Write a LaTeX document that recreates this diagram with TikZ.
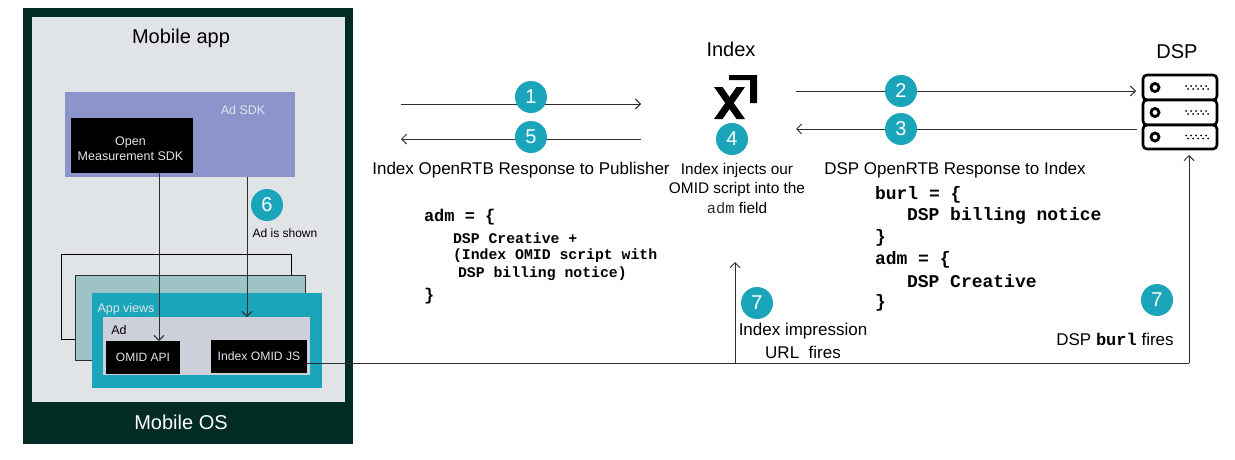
\documentclass[tikz,border=0pt]{standalone}
\usepackage{fontspec}
\setmainfont{Liberation Sans}
\setmonofont{Liberation Mono}
\usetikzlibrary{arrows.meta}
\definecolor{osgreen}{HTML}{022B23}
\definecolor{appgrey}{HTML}{E1E4E7}
\definecolor{sdkblue}{HTML}{8B95CB}
\definecolor{viewmid}{HTML}{9DC3C6}
\definecolor{teal}{HTML}{1BA5BA}
\definecolor{adgrey}{HTML}{CDD0DA}
\definecolor{linegrey}{HTML}{2A2E2E}
\newcommand{\fsz}[1]{\fontsize{#1}{#1}\selectfont}
\tikzset{
  box/.style={rectangle,inner sep=0pt,outer sep=0pt,draw=none},
  blackbox/.style={box,fill=black,text=appgrey,align=center},
  label/.style={inner sep=0pt,outer sep=0pt,text=black,align=center},
  badge/.style={circle,fill=teal,text=white,inner sep=0pt,minimum size=32pt,font=\fsz{20}},
  flow/.style={draw=linegrey,line width=0.9pt,-{Straight Barb[length=5pt,width=10pt,line width=0.9pt]}},
  plainline/.style={draw=linegrey,line width=0.9pt},
  code/.style={inner sep=0pt,outer sep=0pt,anchor=west,font=\ttfamily\bfseries,text=black},
  srv/.style={draw=black,line width=2.6pt,fill=white,rounded corners=4pt}
}
\begin{document}
\begin{tikzpicture}[x=1pt,y=-1pt]
\useasboundingbox (0,0) rectangle (1235,459);
% containers
\node[box,fill=osgreen,minimum width=330pt,minimum height=436pt] (os) at (188,226) {};
\node[box,fill=appgrey,minimum width=313pt,minimum height=385pt] (app) at (188.5,209.5) {};
\node[label,font=\fsz{20}] (apptitle) at (181,38) {Mobile app};
\node[label,font=\fsz{20},text=white] (ostitle) at (181,422) {Mobile OS};
\node[box,fill=sdkblue,minimum width=230pt,minimum height=85pt] (adsdk) at (180,134.5) {};
\node[label,font=\fsz{12.5},text=appgrey] (adsdkt) at (243,110) {Ad SDK};
\node[blackbox,minimum width=122pt,minimum height=55pt,font=\fsz{12.5},text depth=0pt] (omsdk) at (132,145.5) {\rule{0pt}{15pt}Open\hspace*{3pt}\\[3pt]Measurement SDK\hspace*{3pt}};
% view stack
\node[box,draw=black,line width=0.9pt,minimum width=230pt,minimum height=85pt] (view3) at (176,296.5) {};
\node[box,draw=linegrey,line width=0.9pt,fill=viewmid,minimum width=230pt,minimum height=85pt] (view2) at (190,317.5) {};
\node[box,fill=teal,minimum width=230pt,minimum height=95pt] (view1) at (207,340.5) {};
\node[label,font=\fsz{12.5},text=appgrey] (viewt) at (126,309.5) {App views};
\node[box,fill=adgrey,minimum width=207pt,minimum height=58pt] (ad) at (206.5,346) {};
\node[label,font=\fsz{12.5}] (adt) at (119,330.5) {Ad};
\node[blackbox,minimum width=74pt,minimum height=33pt,font=\fsz{12}] (omidapi) at (143,357.5) {OMID API};
\node[blackbox,minimum width=96pt,minimum height=33pt,font=\fsz{12.2}] (omidjs) at (259,356.5) {Index OMID JS};
% free ends of the connectors
\coordinate (a1s) at (401,104); \coordinate (a1e) at (641,104);
\coordinate (a5s) at (641,139); \coordinate (a5e) at (401,139);
\coordinate (a2s) at (796,91);  \coordinate (a2e) at (1136,91);
\coordinate (a3s) at (1137,129); \coordinate (a3e) at (796,129);
\coordinate (j7) at (735,363);
\coordinate (i7e) at (735,262);
\coordinate (c7) at (1189,363);
\coordinate (d7e) at (1189,155);
% connectors
\draw[flow] (a1s) -- (a1e);
\draw[flow] (a5s) -- (a5e);
\draw[flow] (a2s) -- (a2e);
\draw[flow] (a3s) -- (a3e);
\draw[flow] (omsdk.south -| 159,0) -- (omidapi.north -| 159,0);
\draw[flow] (adsdk.south -| 247,0) -- (ad.north -| 247,0);
\draw[plainline] (omidjs.east |- j7) -- (j7);
\draw[flow] (j7) -- (i7e);
\draw[plainline] (j7) -- (c7);
\draw[flow] (c7) -- (d7e);
% badges
\node[badge] (b1) at (531,97) {1};
\node[badge] (b5) at (531,137) {5};
\node[badge] (b2) at (901,91) {2};
\node[badge] (b3) at (901,129) {3};
\node[badge] (b4) at (732,139) {4};
\node[badge] (b6) at (267,205) {6};
\node[badge] (b7a) at (757,303) {7};
\node[badge] (b7b) at (1157,300) {7};
% Index logo
\fill[black] (714,87) -- (722.5,87) -- (745,119) -- (736.5,119) -- cycle;
\fill[black] (736.5,87) -- (745,87) -- (722.5,119) -- (714,119) -- cycle;
\fill[black] (729,75) -- (757,75) -- (757,103) -- (750,103) -- (750,80) -- (729,80) -- cycle;
% server icon
\foreach \yt/\yb in {75/100,100/125,125/149}{
  \draw[srv] (1143,\yt) rectangle (1217,\yb);
  \draw[black,line width=2.8pt] (1155,{(\yt+\yb)/2}) circle (4pt);
  \foreach \dx in {0,5,...,20}{
    \fill[black] ({1186+\dx},{(\yt+\yb)/2-1.5}) circle (1pt);
    \fill[black] ({1188+\dx},{(\yt+\yb)/2+1.5}) circle (1pt);
  }
}
% labels
\node[label,font=\fsz{12}] (shown) at (285,233) {Ad is shown};
\node[label,font=\fsz{20}] (indext) at (731,49) {Index};
\node[label,font=\fsz{20}] (dspt) at (1177,52) {DSP};
\node[label,font=\fsz{17}] (pubresp) at (521,170.5) {Index OpenRTB Response to Publisher};
\node[label,font=\fsz{17}] (dspresp) at (955,170.5) {DSP OpenRTB Response to Index};
\node[label,font=\fsz{15.4}] (inj1) at (737,171) {Index injects our};
\node[label,font=\fsz{15.4}] (inj2) at (737,190) {OMID script into the};
\node[label,font=\fsz{15.4}] (inj3) at (737,208) {{\ttfamily\color{linegrey}adm} field};
\node[label,font=\fsz{17}] (imp1) at (803,331) {Index impression};
\node[label,font=\fsz{17}] (imp2) at (803,352) {URL\ \ fires};
\node[label,font=\fsz{17}] (burlf) at (1115,339) {DSP {\ttfamily\bfseries burl} fires};
% code, left
\node[code,font=\ttfamily\bfseries\fsz{17}] (l1) at (424,217) {adm = \{};
\node[code,font=\ttfamily\bfseries\fsz{14.8}] (l2) at (453,238) {DSP Creative +};
\node[code,font=\ttfamily\bfseries\fsz{14.8}] (l3) at (453,256) {(Index OMID script with};
\node[code,font=\ttfamily\bfseries\fsz{14.8}] (l4) at (458,274) {DSP billing notice)};
\node[code,font=\ttfamily\bfseries\fsz{17}] (l5) at (424,296) {\}};
% code, right
\node[code,font=\ttfamily\bfseries\fsz{18}] (r1) at (875,195) {burl = \{};
\node[code,font=\ttfamily\bfseries\fsz{18}] (r2) at (907,216) {DSP billing notice};
\node[code,font=\ttfamily\bfseries\fsz{18}] (r3) at (875,238) {\}};
\node[code,font=\ttfamily\bfseries\fsz{18}] (r4) at (875,260) {adm = \{};
\node[code,font=\ttfamily\bfseries\fsz{18}] (r5) at (907,281) {DSP Creative};
\node[code,font=\ttfamily\bfseries\fsz{18}] (r6) at (875,303) {\}};
\end{tikzpicture}
\end{document}
